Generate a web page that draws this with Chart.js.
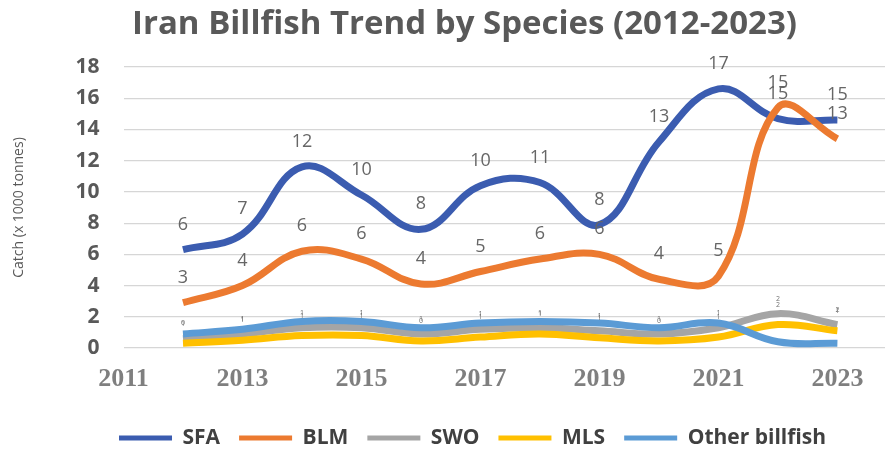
<!DOCTYPE html>
<html>
<head>
<meta charset="utf-8">
<script src="https://cdn.jsdelivr.net/npm/chart.js@4.4.0/dist/chart.umd.min.js"></script>
<style>
  html, body { margin: 0; padding: 0; background: #ffffff; }
  #wrap { width: 888px; height: 450px; }
</style>
</head>
<body>
<div id="wrap"><canvas id="c" width="888" height="450"></canvas></div>
<script>
// Annual billfish catch in Iran, thousand tonnes
const years = [2012, 2013, 2014, 2015, 2016, 2017, 2018, 2019, 2020, 2021, 2022, 2023];
const sfa   = [6.3, 7.3, 11.6, 9.8, 7.6, 10.4, 10.6, 7.9, 13.2, 16.6, 14.7, 14.6];
const blm   = [2.9, 4.0, 6.2, 5.7, 4.1, 4.9, 5.7, 6.0, 4.4, 4.6, 15.4, 13.4];
const swo   = [0.6, 0.9, 1.3, 1.3, 0.9, 1.2, 1.3, 1.1, 0.9, 1.3, 2.2, 1.5];
const mls   = [0.3, 0.5, 0.8, 0.8, 0.45, 0.7, 0.9, 0.65, 0.45, 0.7, 1.5, 1.1];
const other = [0.9, 1.2, 1.7, 1.7, 1.3, 1.6, 1.7, 1.6, 1.3, 1.6, 0.4, 0.3];

const seriesNames = ['SFA', 'BLM', 'SWO', 'MLS', 'Other billfish'];
const xTickYears = [2011, 2013, 2015, 2017, 2019, 2021, 2023];

const colors = ['#3b5cb0', '#ec7a30', '#a5a5a5', '#ffc000', '#5b9bd5'];
const seriesValues = [sfa, blm, swo, mls, other];

// Per-series value label style (null = no labels)
const labelStyles = [
  { size: 18, offset: 25, color: '#666666' },
  { size: 18, offset: 25, color: '#666666' },
  { size: 7,  offset: 15, color: '#707070' },
  { size: 7,  offset: 20, color: '#707070' },
  null
];

const datasets = seriesNames.map((name, i) => ({
  label: name,
  data: years.map((yr, j) => ({ x: yr, y: seriesValues[i][j] })),
  borderColor: colors[i],
  backgroundColor: colors[i],
  borderWidth: 7,
  pointRadius: 0,
  pointHoverRadius: 0,
  tension: 0.4,
  fill: false,
  clip: false,
  order: seriesNames.length - i,
  valueLabel: labelStyles[i]
}));

// Writes each point's rounded value above it
const valueLabels = {
  id: 'valueLabels',
  afterDatasetsDraw(chart) {
    const ctx = chart.ctx;
    chart.data.datasets.forEach((ds, i) => {
      const st = ds.valueLabel;
      if (!st) return;
      const meta = chart.getDatasetMeta(i);
      ctx.save();
      ctx.font = st.size + 'px "Open Sans", sans-serif';
      ctx.fillStyle = st.color;
      ctx.textAlign = 'center';
      ctx.textBaseline = 'middle';
      meta.data.forEach((pt, j) => {
        ctx.fillText(String(Math.round(ds.data[j].y)), pt.x, pt.y - st.offset);
      });
      ctx.restore();
    });
  }
};

// Nudges the title and legend sideways/down after layout
const nudgeBoxes = {
  id: 'nudgeBoxes',
  afterLayout(chart) {
    const t = chart.titleBlock;
    if (t) { t.left += 22; t.right += 22; }
    const l = chart.legend;
    if (l) { l.left += 30; l.right += 30; l.top += 8.5; l.bottom += 8.5; }
  }
};

new Chart(document.getElementById('c'), {
  type: 'line',
  data: { datasets },
  options: {
    responsive: false,
    devicePixelRatio: 1,
    animation: false,
    events: [],
    layout: { padding: { left: 0, right: 3, top: 0, bottom: 0 } },
    plugins: {
      title: {
        display: true,
        text: 'Iran Billfish Trend by Species (2012-2023)',
        color: '#595959',
        font: { family: '"Open Sans", sans-serif', size: 33, weight: 'bold', lineHeight: 1.1 },
        padding: { top: 6, bottom: 24.7 }
      },
      legend: {
        display: true,
        position: 'bottom',
        labels: {
          boxWidth: 53,
          boxHeight: 5,
          padding: 19,
          color: '#404040',
          font: { family: '"Open Sans", sans-serif', size: 21, weight: 'bold' },
          sort: (a, b) => a.datasetIndex - b.datasetIndex,
          generateLabels(chart) {
            const items = Chart.defaults.plugins.legend.labels.generateLabels(chart);
            items.forEach(it => { it.lineWidth = 0; it.fillStyle = it.strokeStyle; });
            return items;
          }
        }
      },
      tooltip: { enabled: false }
    },
    scales: {
      x: {
        type: 'linear',
        min: 2011,
        max: 2023.8,
        afterBuildTicks(scale) { scale.ticks = xTickYears.map(v => ({ value: v })); },
        afterFit(scale) { scale.height = 52; },
        grid: { display: false, drawTicks: false },
        border: { display: false },
        ticks: {
          padding: 16,
          color: '#7f7f7f',
          maxRotation: 0,
          autoSkip: false,
          font: { family: '"Liberation Serif", serif', size: 26, weight: 'bold' },
          callback: v => String(v)
        }
      },
      y: {
        min: 0,
        max: 18,
        afterFit(scale) { scale.width = 123.5; },
        grid: { color: '#d6d6d6', lineWidth: 1.2, drawTicks: false },
        border: { display: false },
        ticks: {
          stepSize: 2,
          padding: 24,
          color: '#595959',
          font: { family: '"Open Sans", sans-serif', size: 21, weight: 'bold' }
        },
        title: {
          display: true,
          text: 'Catch (x 1000 tonnes)',
          color: '#595959',
          font: { family: '"Open Sans", sans-serif', size: 14 },
          padding: { top: 11, bottom: 0 }
        }
      }
    }
  },
  plugins: [valueLabels, nudgeBoxes]
});
</script>
</body>
</html>
